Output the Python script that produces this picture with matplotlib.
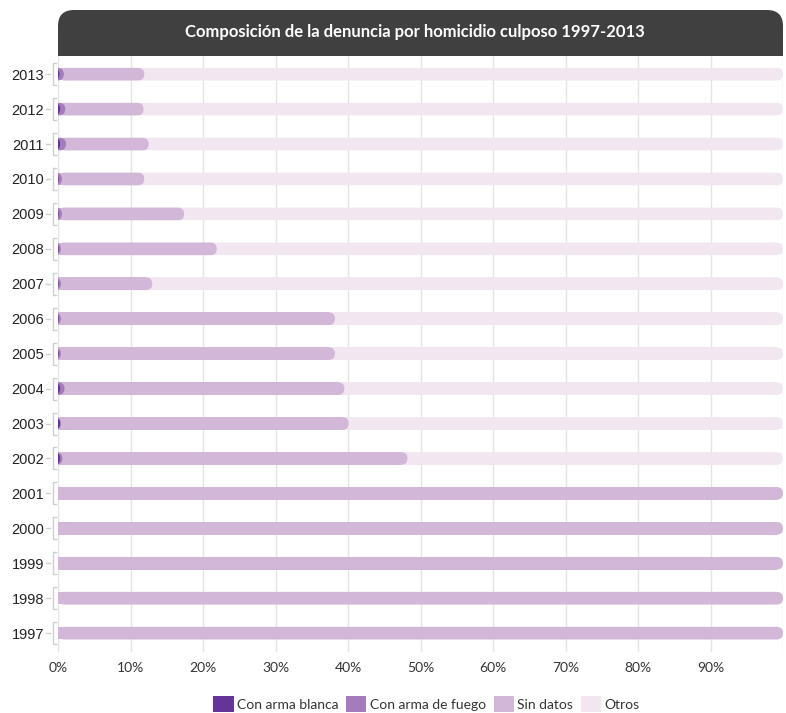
import matplotlib.pyplot as plt
import matplotlib.transforms as mtransforms
from matplotlib.patches import FancyBboxPatch, Rectangle, Patch

# data (percent of denuncias per year)
years = [1997, 1998, 1999, 2000, 2001, 2002, 2003, 2004, 2005,
         2006, 2007, 2008, 2009, 2010, 2011, 2012, 2013]
arma_blanca = [0, 0, 0, 0, 0, 0.3, 0.3, 0.3, 0.1,
               0.1, 0.1, 0.1, 0.1, 0.1, 0.3, 0.3, 0.2]
arma_fuego = [0, 0, 0, 0, 0, 0.3, 0.1, 0.6, 0.3,
              0.3, 0.3, 0.3, 0.45, 0.45, 0.8, 0.7, 0.6]
sin_datos = [100, 100, 100, 100, 100, 47.6, 39.7, 38.6, 37.8,
             37.8, 12.6, 21.5, 16.85, 11.35, 11.4, 10.8, 11.1]
otros = [100 - a - b - c for a, b, c in zip(arma_blanca, arma_fuego, sin_datos)]

labels = ["Con arma blanca", "Con arma de fuego", "Sin datos", "Otros"]
colors = ["#663399", "#a57cbb", "#d2b7d9", "#f2e6f1"]

TITLE = "Composición de la denuncia por homicidio culposo 1997-2013"

W, H = 786, 713
fig = plt.figure(figsize=(W / 100, H / 100), dpi=100)
ax_l, ax_r, ax_t, ax_b = 58, 783, 56, 652
ax = fig.add_axes([ax_l / W, 1 - ax_b / H, (ax_r - ax_l) / W, (ax_b - ax_t) / H])

ypos = list(range(len(years)))
ax.set_xlim(0, 100)
ax.set_ylim(-0.54, len(years) - 0.48)

# bar geometry: rounded right ends
bar_h = 0.36
px_x = (ax_r - ax_l) / 100
px_y = (ax_b - ax_t) / (len(years) - 0.48 + 0.54)
aspect = px_x / px_y
r = bar_h / (2 * aspect)

# cumulative layers, drawn back to front
cum_blanca = arma_blanca
cum_fuego = [a + b for a, b in zip(arma_blanca, arma_fuego)]
cum_sin = [a + b for a, b in zip(cum_fuego, sin_datos)]
cum_otros = [a + b for a, b in zip(cum_sin, otros)]
layers = [cum_otros, cum_sin, cum_fuego, cum_blanca]
layer_colors = colors[::-1]

for z, (cum, col) in enumerate(zip(layers, layer_colors)):
    for y, c in zip(ypos, cum):
        if c <= 0.001:
            continue
        x0 = min(0, c - 2 * r)
        box = FancyBboxPatch((x0, y - bar_h / 2), c - x0, bar_h,
                             boxstyle=f"round,pad=0,rounding_size={r}",
                             mutation_aspect=aspect, fc=col, ec="none",
                             zorder=2 + z)
        ax.add_patch(box)
        if c - r > 0:
            ax.barh(y, c - r, left=0, height=bar_h, color=col, zorder=2 + z)

# axes styling
ax.set_xticks(range(0, 101, 10))
ax.set_xticklabels([f"{v}%" for v in range(0, 100, 10)] + [""],
                   fontsize=10, color="#333333", family="Lato")
ax.set_yticks(ypos)
ax.set_yticklabels([str(y) for y in years], fontsize=10.5, color="#222222",
                   family="Liberation Sans")
ax.tick_params(axis="y", length=0, pad=10)
ax.tick_params(axis="x", length=0, pad=7)
ax.grid(axis="x", color="#e4e4e4", lw=1, zorder=0)
ax.set_axisbelow(True)
for s in ax.spines.values():
    s.set_visible(False)

# little ticks and brackets next to the year labels
trans = mtransforms.blended_transform_factory(ax.transAxes, ax.transData)
bx = -5 / (ax_r - ax_l)
bx2 = -1 / (ax_r - ax_l)
tx0 = -12 / (ax_r - ax_l)
tx1 = -8 / (ax_r - ax_l)
bh = 11 / px_y
for y in ypos:
    ax.plot([bx2, bx, bx, bx2], [y + bh, y + bh, y - bh, y - bh], transform=trans,
            color="#cfcfcf", lw=1, clip_on=False, solid_capstyle="butt")
    ax.plot([tx0, tx1], [y, y], transform=trans, color="#cfcfcf", lw=1,
            clip_on=False)

# title banner with rounded top corners
bx0, bx1, by0, by1 = ax_l / W, ax_r / W, 1 - ax_t / H, 1 - 10 / H
rad = 16 / W
fig.patches.append(FancyBboxPatch((bx0, by0), bx1 - bx0, by1 - by0,
                                  boxstyle=f"round,pad=0,rounding_size={rad}",
                                  mutation_aspect=W / H, fc="#404040", ec="none",
                                  transform=fig.transFigure, figure=fig))
fig.patches.append(Rectangle((bx0, by0), bx1 - bx0, (by1 - by0) / 2,
                             fc="#404040", ec="none",
                             transform=fig.transFigure, figure=fig))
fig.text(415 / W, 1 - 32 / H, TITLE, color="white", fontsize=12,
         fontweight="bold", family="Lato", ha="center", va="center")

# legend
handles = [Patch(fc=c, ec="none") for c in colors]
leg = fig.legend(handles, labels, loc="center", bbox_to_anchor=(0.5426, 1 - 704 / H),
                 ncol=4, frameon=False, handlelength=1.45, handleheight=1.45,
                 handletextpad=0.25, columnspacing=0.55,
                 prop={"family": "Lato", "size": 10})
for t in leg.get_texts():
    t.set_color("#333333")

fig.savefig("out.png", dpi=100)
